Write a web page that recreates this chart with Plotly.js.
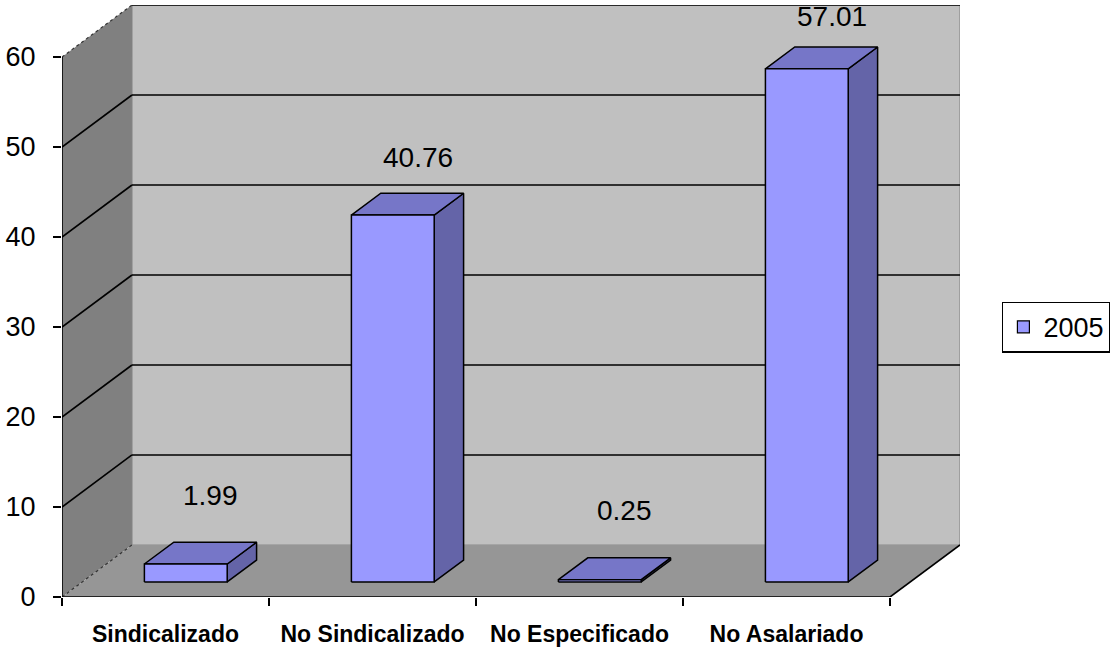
<!DOCTYPE html>
<html><head><meta charset="utf-8">
<script src="https://cdn.plot.ly/plotly-3.0.1.min.js"></script>
<style>html,body{margin:0;padding:0;background:#fff}#chart{width:1116px;height:647px}</style>
</head><body><div id="chart"></div>
<script>
// ---- data ----
const categories = ['Sindicalizado', 'No Sindicalizado', 'No Especificado', 'No Asalariado'];
const values2005 = [1.99, 40.76, 0.25, 57.01];
const seriesName = '2005';
const yTicks = [0, 10, 20, 30, 40, 50, 60];

// ---- pseudo-3D geometry (axis units) ----
const DX = 0.338, DY = 5.78;   // depth offset of back wall
const F0 = 0.29, F1 = 0.71;    // bar depth span (fraction of depth)
const BW = 0.4;                // bar width (fraction of category)
const N = categories.length;
const YMAX = yTicks[yTicks.length - 1];
const FONT = '"Liberation Sans", Arial, sans-serif';

const traces = [];
function poly(xs, ys, fill, lineColor, lineWidth, dash) {
  return {type: 'scatter', mode: 'lines', x: xs, y: ys, fill: fill ? 'toself' : 'none',
    fillcolor: fill || undefined, line: {color: lineColor || 'rgba(0,0,0,0)', width: lineWidth || 0, dash: dash || 'solid'},
    hoverinfo: 'skip', showlegend: false};
}
// back wall
traces.push(poly([DX, N + DX, N + DX, DX, DX], [DY, DY, YMAX + DY, YMAX + DY, DY], '#c0c0c0', '#8a8a8a', 1.2));
// left wall
traces.push(poly([0, 0, DX, DX, 0], [0, YMAX, YMAX + DY, DY, 0], '#808080'));
// floor
traces.push(poly([0, N, N + DX, DX, 0], [0, 0, DY, DY, 0], '#969696'));

// gridlines
const gbx = [], gby = [], gsx = [], gsy = [];
yTicks.forEach(v => {
  if (v === 0) return;
  gbx.push(DX, N + DX, null); gby.push(v + DY, v + DY, null);
  if (v !== YMAX) { gsx.push(0, DX, null); gsy.push(v, v + DY, null); }
});
traces.push(poly(gbx, gby, null, '#000', 1.6));
traces.push(poly(gsx, gsy, null, '#000', 1.6));
// dotted edges of the left wall
traces.push(poly([0, DX, null, 0, DX], [YMAX, YMAX + DY, null, 0, DY], null, '#333', 1.2, 'dot'));
// floor right edge
traces.push(poly([N, N + DX], [0, DY], null, '#000', 1.6));
// front axes edges
traces.push(poly([0, 0, N], [YMAX, 0, 0], null, '#000', 1.6));

// bars
const fx = [], fy = [], tx = [], ty = [], sx = [], sy = [];
values2005.forEach((v, i) => {
  const l0 = i + (1 - BW) / 2 + F0 * DX, r0 = l0 + BW;
  const l1 = i + (1 - BW) / 2 + F1 * DX, r1 = l1 + BW;
  const b0 = F0 * DY, b1 = F1 * DY;
  fx.push(l0, r0, r0, l0, l0, null); fy.push(b0, b0, v + b0, v + b0, b0, null);
  tx.push(l0, r0, r1, l1, l0, null); ty.push(v + b0, v + b0, v + b1, v + b1, v + b0, null);
  sx.push(r0, r1, r1, r0, r0, null); sy.push(b0, b1, v + b1, v + b0, b0, null);
});
traces.push(poly(sx, sy, '#6464a8', '#000', 1.5));
traces.push(poly(tx, ty, '#7676c8', '#000', 1.5));
traces.push(poly(fx, fy, '#9999ff', '#000', 1.5));

// legend entry
traces.push({type: 'scatter', mode: 'markers', x: [null], y: [null], name: seriesName,
  marker: {symbol: 'square', size: 12, color: '#9999ff', line: {color: '#000', width: 1.2}},
  showlegend: true, hoverinfo: 'skip'});

// value labels sit a little above each bar, compressed slightly with height (as in the 3D projection)
const annotations = values2005.map((v, i) => ({
  x: i + 0.5 + 0.5 * DX, y: v * 0.967 + 9.4, xref: 'x', yref: 'y', text: v.toFixed(2),
  showarrow: false, xshift: 10, font: {family: FONT, size: 28, color: '#000'}
}));

const layout = {
  width: 1116, height: 647,
  margin: {l: 62, r: 156, t: 5, b: 50, pad: 0},
  paper_bgcolor: '#fff', plot_bgcolor: 'rgba(0,0,0,0)',
  showlegend: true,
  legend: {x: 1.047, xanchor: 'left', y: 0.456, yanchor: 'middle', bgcolor: '#fff',
    bordercolor: '#000', borderwidth: 1.2, font: {family: FONT, size: 27, color: '#000'}, itemwidth: 30},
  xaxis: {range: [0, N + DX], showgrid: false, zeroline: false, showline: false,
    tickmode: 'array', tickvals: categories.map((c, i) => i + 0.5), ticktext: categories,
    ticks: '', ticklabelstandoff: 21,
    tickfont: {family: FONT, size: 23, color: '#000', weight: 'bold'},
    minor: {tick0: 0, dtick: 1, ticks: 'outside', ticklen: 8, tickwidth: 1.3, tickcolor: '#000', showgrid: false},
    fixedrange: true},
  yaxis: {range: [0, YMAX + DY], showgrid: false, zeroline: false, showline: false,
    tickmode: 'array', tickvals: yTicks, ticks: 'outside', ticklen: 8, tickwidth: 1.3, tickcolor: '#000',
    ticklabelstandoff: 12, tickfont: {family: FONT, size: 27, color: '#000'}, fixedrange: true},
  annotations: annotations,
  hovermode: false
};
Plotly.newPlot('chart', traces, layout, {staticPlot: true, displayModeBar: false});
</script></body></html>
